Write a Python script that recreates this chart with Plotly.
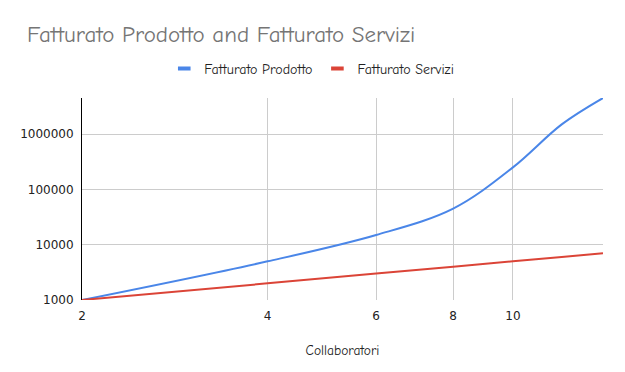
import math
import plotly.graph_objects as go

collaboratori = [2, 4, 6, 8, 10, 12, 14]
fatturato_prodotto = [1000, 5000, 15000, 45000, 250000, 1500000, 4500000]
fatturato_servizi = [1000, 2000, 3000, 4000, 5000, 6000, 7000]
x_ticks = [2, 4, 6, 8, 10]
y_ticks = [1000, 10000, 100000, 1000000]
series_names = ["Fatturato Prodotto", "Fatturato Servizi"]
series_colors = ["#4a86e8", "#db4437"]

title_font = "Comic Neue, Comic Sans MS, Lato, sans-serif"
tick_font = "DejaVu Sans, Verdana, sans-serif"

fig = go.Figure()
for ys, name, color in zip([fatturato_prodotto, fatturato_servizi], series_names, series_colors):
    fig.add_trace(go.Scatter(x=collaboratori, y=ys, mode="lines", name=name, showlegend=False,
                             line=dict(color=color, width=2, shape="spline", smoothing=1.0)))
# legend entries with short dash symbols
for name, color in zip(series_names, series_colors):
    fig.add_trace(go.Scatter(x=[None], y=[None], mode="markers", name=name, showlegend=True,
                             marker=dict(symbol="line-ew", size=9, color=color,
                                         line=dict(width=4, color=color))))

fig.update_layout(
    width=625, height=372,
    margin=dict(l=82, r=22, t=98, b=72),
    paper_bgcolor="white", plot_bgcolor="white",
    title=dict(text="Fatturato Prodotto and Fatturato Servizi", x=27/625, xanchor="left",
               y=1 - 34/372, yanchor="middle",
               font=dict(family=title_font, size=23, color="#757575")),
    legend=dict(orientation="h", x=0.441, xanchor="center", y=1 - 69/372, yref="container",
                yanchor="middle", itemwidth=30, tracegroupgap=0,
                font=dict(family=title_font, size=14, color="#222222")),
    showlegend=True,
)
fig.update_xaxes(type="log", range=[math.log10(min(collaboratori)), math.log10(max(collaboratori))],
                 tickvals=x_ticks, ticktext=[str(v) for v in x_ticks],
                 showgrid=True, gridcolor="#cccccc", gridwidth=1,
                 showline=False, zeroline=False, ticks="", ticklabelstandoff=7,
                 tickfont=dict(family=tick_font, size=12, color="#222222"),
                 title=dict(text="Collaboratori", standoff=23,
                            font=dict(family=title_font, size=13.5, color="#222222")))
fig.update_yaxes(type="log", range=[math.log10(min(fatturato_prodotto)), math.log10(max(fatturato_prodotto))],
                 tickvals=y_ticks, ticktext=[str(v) for v in y_ticks],
                 showgrid=True, gridcolor="#cccccc", gridwidth=1,
                 showline=True, linecolor="#000000", linewidth=1, zeroline=False, ticks="",
                 ticklabelstandoff=5,
                 tickfont=dict(family=tick_font, size=12, color="#222222"))

fig.write_html("out.html", config={"displayModeBar": False},
               post_script="document.body.style.margin='0';")
